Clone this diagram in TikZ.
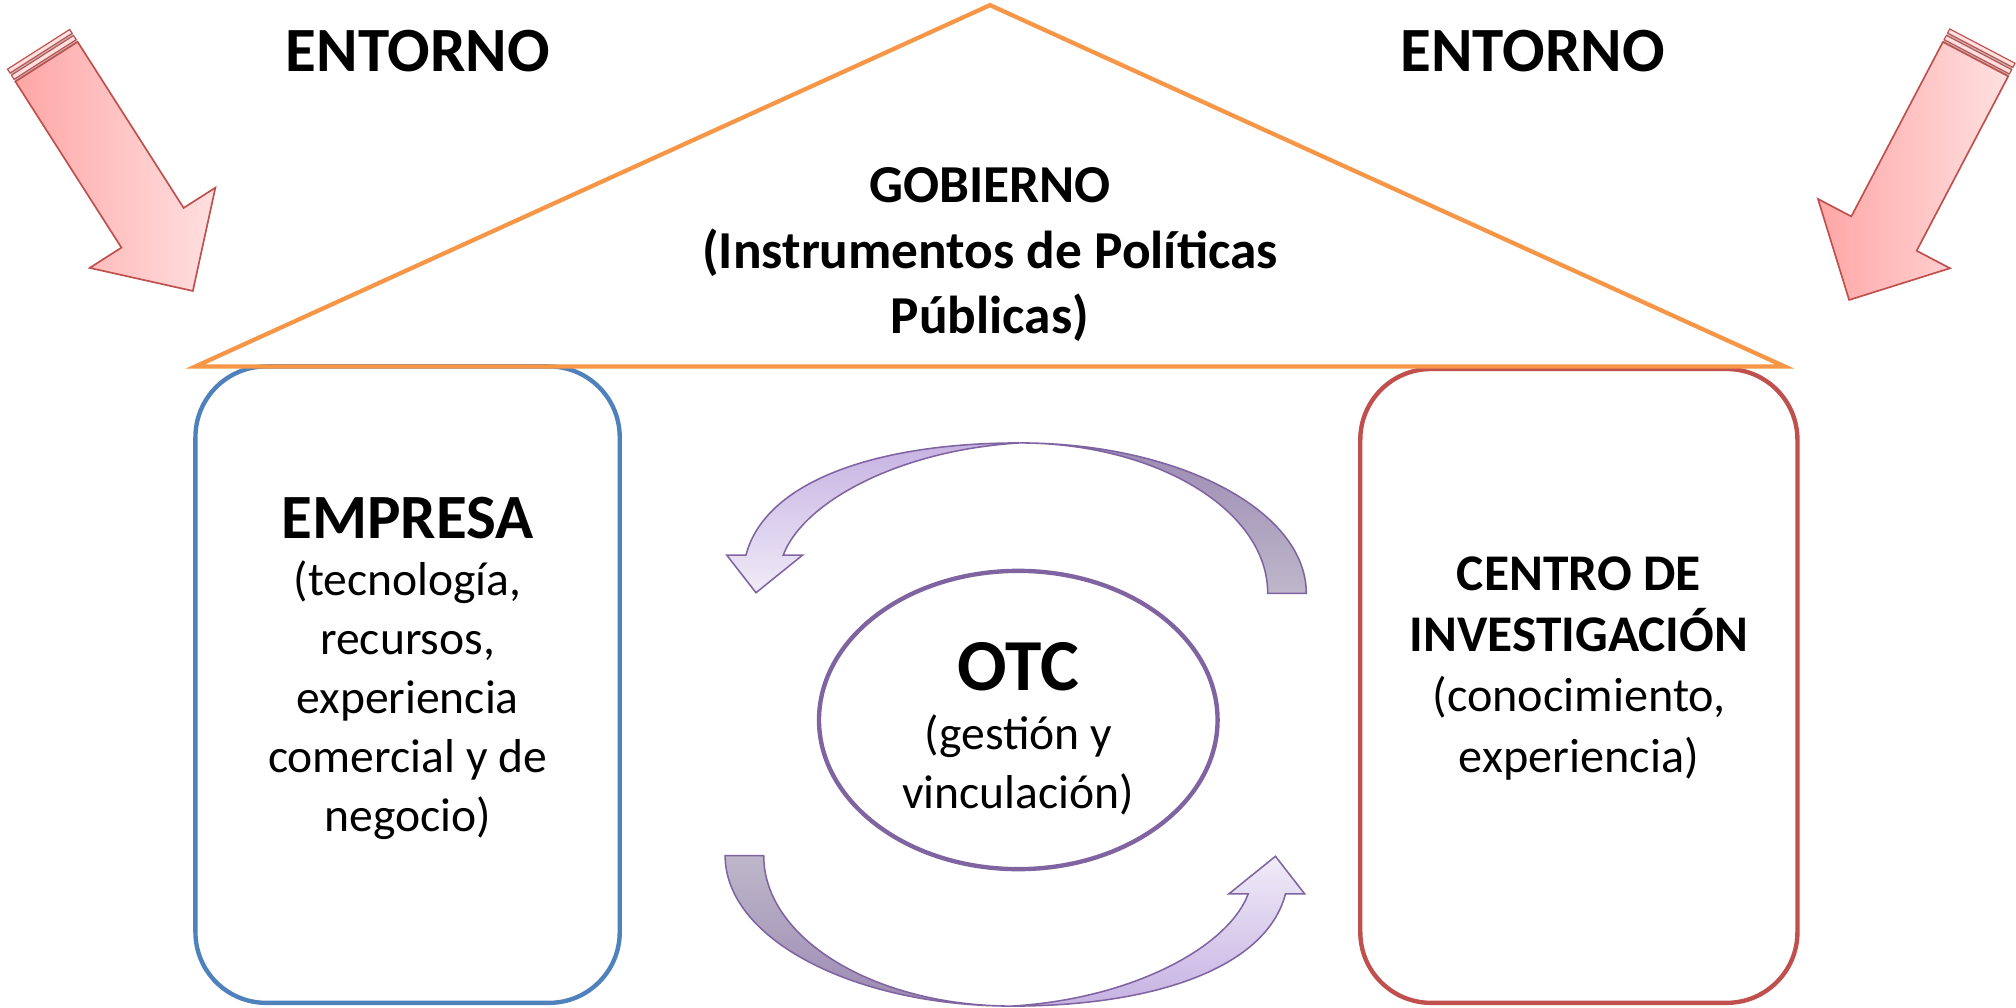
\documentclass[tikz,border=0pt]{standalone}
\usepackage{fontspec}
\setmainfont{Carlito}
\usetikzlibrary{shapes.geometric}
\definecolor{orangeline}{HTML}{F79646}
\definecolor{blueline}{HTML}{4F81BD}
\definecolor{redline}{HTML}{C0504D}
\definecolor{purpleline}{HTML}{8064A2}
\definecolor{pinkdark}{HTML}{FFA6A6}
\definecolor{pinklight}{HTML}{FFE0E0}
\definecolor{lavfront}{HTML}{C6B2E2}
\definecolor{lavpale}{HTML}{F0EBF8}
\definecolor{lavback}{HTML}{9C8AB3}
\definecolor{lavgray}{HTML}{BEB8CA}
\tikzset{
  roundbox/.style={draw, line width=3.4pt, rounded corners=55pt, inner sep=0pt},
  bigarrow/.style={draw=redline, line width=1.3pt, line join=miter, left color=pinkdark, right color=pinklight},
  stripe/.style={draw=redline, line width=0.9pt, fill=pinklight},
  curvedarrow/.style={draw=purpleline, line width=1.2pt, line join=miter},
  blocktext/.style={align=center, inner sep=0pt, text=black},
}
\begin{document}
\begin{tikzpicture}[x=1pt,y=-1pt]
\useasboundingbox (0,0) rectangle (1568,784);
\fill[white] (0,0) rectangle (1568,784);

% boxes
\node[roundbox, draw=blueline, minimum width=330pt, minimum height=495pt] (empresa) at (317,532.5) {};
\node[roundbox, draw=redline, minimum width=340pt, minimum height=493pt] (centro) at (1228,533.5) {};
\node[draw=purpleline, line width=3.4pt, ellipse, minimum width=310pt, minimum height=232pt, inner sep=0pt] (otc) at (792,560) {};

% red arrows
\begin{scope}[shift={(150,226.3)}, rotate=-57.45]
  \fill[gray!55] (-223,-28.7) rectangle (-211.6,28.7);
  \draw[stripe] (-213.6,-28.7) rectangle (-217.4,28.7);
  \draw[stripe] (-219.4,-28.7) rectangle (-223,28.7);
  \draw[bigarrow] (0,0) -- (-58.3,58) -- (-58.3,28.7) -- (-211.6,28.7) -- (-211.6,-28.7) -- (-58.3,-28.7) -- (-58.3,-58) -- cycle;
\end{scope}
\begin{scope}[shift={(1438.2,233.3)}, rotate=-117.7]
  \fill[gray!55] (-223,-28.7) rectangle (-211.6,28.7);
  \draw[stripe] (-213.6,-28.7) rectangle (-217.4,28.7);
  \draw[stripe] (-219.4,-28.7) rectangle (-223,28.7);
  \draw[bigarrow] (0,0) -- (-58.3,58) -- (-58.3,28.7) -- (-211.6,28.7) -- (-211.6,-28.7) -- (-58.3,-28.7) -- (-58.3,-58) -- cycle;
\end{scope}

% top curved arrow
\draw[curvedarrow, top color=lavback, bottom color=lavgray] (1016,461.5) .. controls (1016,396.9) and (916.2,344.5) .. (793,344.5) .. controls (899.6,344.5) and (986,396.9) .. (986,461.5) -- cycle;
\draw[curvedarrow, top color=lavfront, bottom color=lavpale] (793,344.5) .. controls (680,344.5) and (595,375) .. (580.2,431.7) -- (565.2,431.7) -- (588,461) -- (624.3,431.7) -- (609.2,431.7) .. controls (625,390) and (700,350) .. (793,344.5) -- cycle;

% bottom curved arrow
\draw[curvedarrow, top color=lavgray, bottom color=lavback] (564,665.5) .. controls (564,730.1) and (663.8,782.5) .. (787,782.5) .. controls (680.4,782.5) and (594,730.1) .. (594,665.5) -- cycle;
\draw[curvedarrow, top color=lavpale, bottom color=lavfront] (787,782.5) .. controls (900,782.5) and (985,752) .. (999.8,695.3) -- (1014.8,695.3) -- (992,666) -- (955.7,695.3) -- (970.8,695.3) .. controls (955,737) and (880,777) .. (787,782.5) -- cycle;

% roof
\draw[orangeline, line width=3.3pt, line join=miter] (770,4) -- (1388,285) -- (152,285) -- cycle;

% texts
\node[blocktext, font=\fontsize{49}{58}\selectfont\bfseries] (entornoL) at (325,40) {ENTORNO};
\node[blocktext, font=\fontsize{49}{58}\selectfont\bfseries] (entornoR) at (1192,40) {ENTORNO};
\node[blocktext, font=\fontsize{41.5}{51}\selectfont\bfseries] (gobierno) at (770,198) {GOBIERNO\\(Instrumentos de Políticas\\Públicas)};
\node[blocktext, font=\fontsize{37}{46}\selectfont] (empresatext) at (317,520) {{\fontsize{49}{58}\selectfont\bfseries EMPRESA}\\[-2pt](tecnología,\\recursos,\\experiencia\\comercial y de\\negocio)};
\node[blocktext, font=\fontsize{37.5}{47}\selectfont] (centrotext) at (1228,520) {{\fontsize{40}{47}\selectfont\bfseries CENTRO DE}\\{\fontsize{40}{47}\selectfont\bfseries INVESTIGACIÓN}\\(conocimiento,\\experiencia)};
\node[blocktext, font=\fontsize{37}{46}\selectfont] (otctext) at (792,567) {{\fontsize{57}{66}\selectfont\bfseries OTC}\\(gestión y\\vinculación)};
\end{tikzpicture}
\end{document}
